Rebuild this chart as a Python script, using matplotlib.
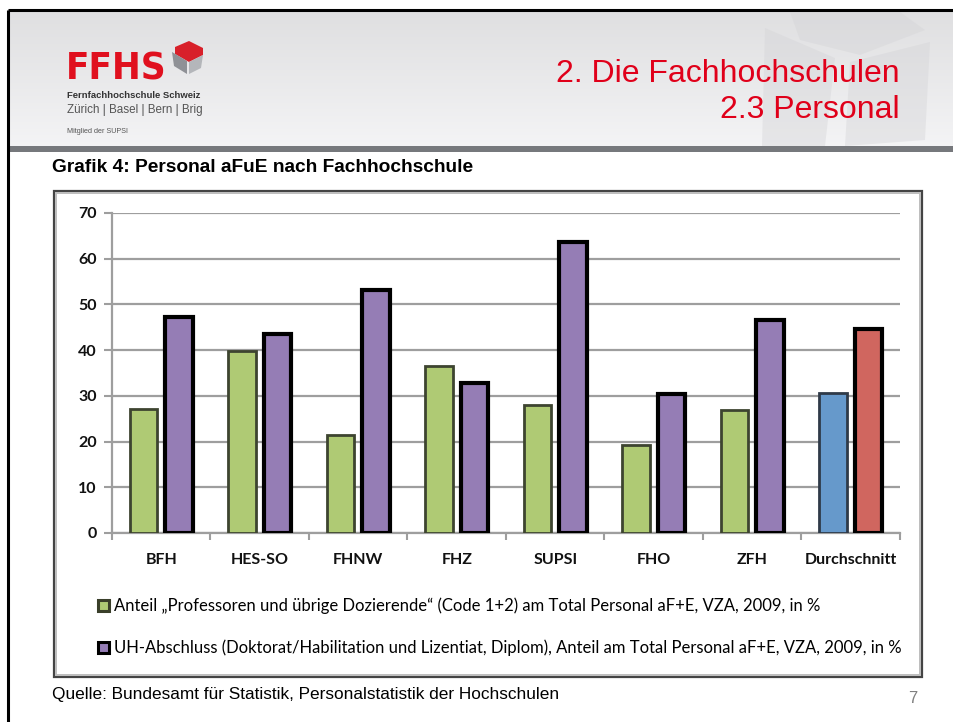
import matplotlib
matplotlib.use("Agg")
import matplotlib.pyplot as plt
import numpy as np
from matplotlib.patches import Rectangle, Polygon

W, H = 954, 722
DPI = 100

categories = ["BFH", "HES-SO", "FHNW", "FHZ", "SUPSI", "FHO", "ZFH", "Durchschnitt"]
anteil_prof = [27.1, 39.8, 21.4, 36.5, 28.0, 19.3, 26.9, 30.6]
uh_abschluss = [47.2, 43.5, 53.2, 32.9, 63.7, 30.3, 46.6, 44.7]
yticks = [0, 10, 20, 30, 40, 50, 60, 70]
legend_labels = [
    "Anteil \u201eProfessoren und \u00fcbrige Dozierende\u201c (Code 1+2) am Total Personal aF+E, VZA, 2009, in %",
    "UH-Abschluss (Doktorat/Habilitation und Lizentiat, Diplom), Anteil am Total Personal aF+E, VZA, 2009, in %",
]

GREEN = "#AFCA74"
PURPLE = "#957DB5"
BLUE = "#6699CB"
RED = "#D0665F"

body_font = ["Lato", "DejaVu Sans"]
arial = ["Liberation Sans", "DejaVu Sans"]

fig = plt.figure(figsize=(W / DPI, H / DPI), dpi=DPI)
fig.patch.set_facecolor("white")

bg = fig.add_axes([0, 0, 1, 1], zorder=0)
bg.set_xlim(0, W)
bg.set_ylim(H, 0)
bg.axis("off")

# header gradient
g = np.linspace(0.875, 0.955, 100).reshape(-1, 1)
grad = np.dstack([g, g, np.clip(g + 0.006, 0, 1)])
bg.imshow(grad, extent=[8, W, 146, 11], aspect="auto", zorder=0)
# faint watermark cube
bg.add_patch(Polygon([[790, 12], [900, 12], [925, 30], [860, 55], [800, 40]], closed=True,
                     facecolor="#d3d3d6", edgecolor="none", alpha=0.4, zorder=1))
bg.add_patch(Polygon([[765, 28], [835, 58], [825, 146], [762, 146]], closed=True,
                     facecolor="#d3d3d6", edgecolor="none", alpha=0.4, zorder=1))
bg.add_patch(Polygon([[850, 62], [930, 42], [925, 140], [845, 146]], closed=True,
                     facecolor="#d3d3d6", edgecolor="none", alpha=0.4, zorder=1))
# dark strip
bg.add_patch(Rectangle((8, 146), W - 8, 6, facecolor="#76787c", edgecolor="none", zorder=2))
# outer frame lines
bg.plot([8, W], [10, 10], color="black", lw=2.2, zorder=3, solid_capstyle="butt")
bg.plot([8.5, 8.5], [10, H], color="black", lw=2.2, zorder=3, solid_capstyle="butt")

# logo
bg.text(66, 80, "FFHS", color="#E0101E", fontsize=27.5, fontweight="bold",
        family=["DejaVu Sans"], fontstretch="condensed", ha="left", va="baseline", zorder=4)
bg.add_patch(Polygon([[175, 47], [189, 41], [203, 48], [203, 55], [189, 62], [175, 54]], closed=True,
                     facecolor="#D8202A", edgecolor="none", zorder=4))
bg.add_patch(Polygon([[172, 52], [187, 61], [187, 74], [174, 66]], closed=True,
                     facecolor="#8f9196", edgecolor="none", zorder=4))
bg.add_patch(Polygon([[189, 62], [203, 55], [201, 68], [189, 74]], closed=True,
                     facecolor="#b4b6ba", edgecolor="none", zorder=4))
bg.text(67, 98, "Fernfachhochschule Schweiz", color="#333333", fontsize=6.8, fontweight="bold",
        family=arial, ha="left", va="baseline", zorder=4)
bg.text(67, 113, "Z\u00fcrich | Basel | Bern | Brig", color="#555555", fontsize=8.4,
        family=arial, ha="left", va="baseline", zorder=4)
bg.text(67, 133, "Mitglied der SUPSI", color="#555555", fontsize=5.2,
        family=arial, ha="left", va="baseline", zorder=4)

# right header titles
bg.text(900, 82, "2. Die Fachhochschulen", color="#E0001A", fontsize=23,
        family=arial, ha="right", va="baseline", zorder=4)
bg.text(900, 118, "2.3 Personal", color="#E0001A", fontsize=23,
        family=arial, ha="right", va="baseline", zorder=4)

# chart title
bg.text(52, 172, "Grafik 4: Personal aFuE nach Fachhochschule", color="black", fontsize=13.8,
        fontweight="bold", family=arial, ha="left", va="baseline", zorder=4)

# chart frame
bg.add_patch(Rectangle((54, 191), 868, 486, facecolor="white", edgecolor="#444444", lw=1.6, zorder=1))
bg.add_patch(Rectangle((56, 193), 864, 482, facecolor="none", edgecolor="#bdbdbd", lw=1.4, zorder=2))

# source and page number
bg.text(52, 699, "Quelle: Bundesamt f\u00fcr Statistik, Personalstatistik der Hochschulen", color="black",
        fontsize=12.4, family=arial, ha="left", va="baseline", zorder=4)
bg.text(917, 703, "7", color="#808080", fontsize=12, family=arial, ha="right", va="baseline", zorder=4)

# legend
leg_colors = [(GREEN, "#3a3f2a"), (PURPLE, "black")]
leg_y = [606, 648]
for (fc, ec), y, lab in zip(leg_colors, leg_y, legend_labels):
    bg.add_patch(Rectangle((98, y - 6), 11, 11, facecolor=fc, edgecolor=ec, lw=2.2, zorder=4))
    bg.text(114, y, lab, color="black", fontsize=11.95, family=body_font, ha="left",
            va="center", zorder=4)

# main plot axes
left, right, top, bottom = 112, 900, 213, 533
ax = fig.add_axes([left / W, 1 - bottom / H, (right - left) / W, (bottom - top) / H], zorder=2)
ax.patch.set_alpha(0)
x = np.arange(len(categories))
off, bw = 0.18, 0.28
green_cols = [GREEN] * 7 + [BLUE]
green_edges = ["#3d4430"] * 7 + ["#2f3a48"]
purple_cols = [PURPLE] * 7 + [RED]
ax.bar(x - off, anteil_prof, width=bw, color=green_cols, edgecolor=green_edges, linewidth=2.0, zorder=3)
ax.bar(x + off, uh_abschluss, width=bw, color=purple_cols, edgecolor="black", linewidth=3.0, zorder=3)

ax.set_xlim(-0.5, len(categories) - 0.5)
ax.set_ylim(0, 70)
ax.set_yticks(yticks)
ax.set_yticklabels([str(v) for v in yticks], fontsize=11.5, family=body_font, fontweight="bold")
ax.yaxis.grid(True, color="#9e9e9e", lw=1.6, zorder=0)
ax.set_axisbelow(True)
ax.tick_params(axis="y", length=6, width=1.5, color="#9e9e9e", pad=5, labelcolor="#111111")

ax.set_xticks(np.arange(-0.5, len(categories) + 0.5, 1.0))
ax.set_xticklabels([])
ax.tick_params(axis="x", length=5, width=1.5, color="#9e9e9e")
for xi, c in zip(x, categories):
    ax.text(xi, -6.0, c, ha="center", va="center", fontsize=11.5, family=body_font,
            fontweight="bold", color="#111111", clip_on=False)

for s in ["top", "right"]:
    ax.spines[s].set_visible(False)
for s in ["left", "bottom"]:
    ax.spines[s].set_color("#9e9e9e")
    ax.spines[s].set_linewidth(1.6)

fig.savefig("out.png", dpi=DPI, facecolor="white")
